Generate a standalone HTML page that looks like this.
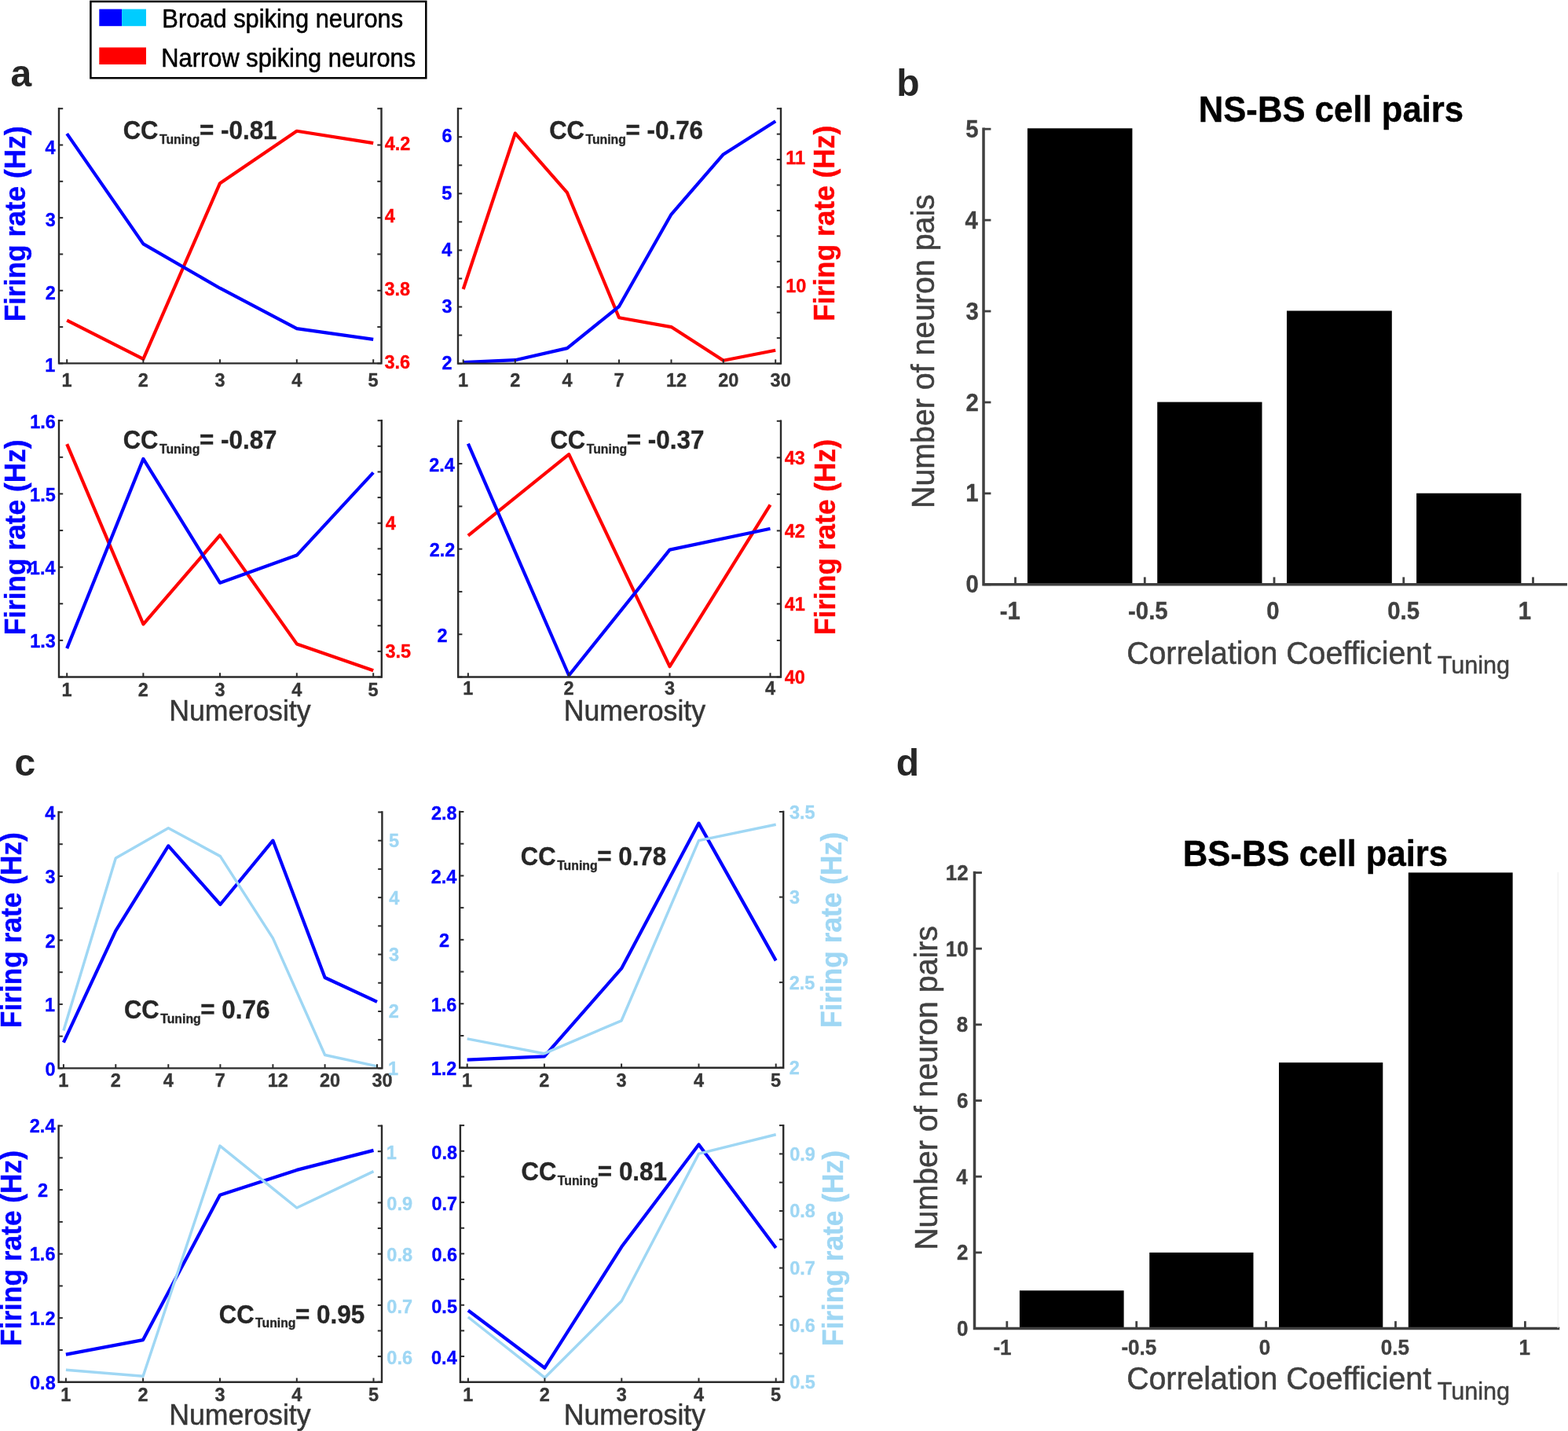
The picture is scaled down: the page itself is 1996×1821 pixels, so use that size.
<!DOCTYPE html>
<html><head><meta charset="utf-8"><title>Figure</title>
<style>
html,body{margin:0;padding:0;background:#fff;}
svg{display:block;}
text{font-family:'Liberation Sans', Arial, Helvetica, sans-serif;}
</style></head>
<body>
<svg width="1996" height="1821" viewBox="0 0 1996 1821">
<rect x="0" y="0" width="1996" height="1821" fill="#fff"/>
<polyline points="85.20,407.60 182.40,456.90 280.00,233.20 377.80,166.80 475.20,182.10" fill="none" stroke="#ff0000" stroke-width="4.20" stroke-linejoin="round" stroke-linecap="butt"/>
<polyline points="85.20,170.10 182.40,310.40 280.00,366.70 377.80,418.10 475.20,431.90" fill="none" stroke="#0000ff" stroke-width="4.20" stroke-linejoin="round" stroke-linecap="butt"/>
<path d="M75.00 138.20 V462.40 H485.50 V138.20" fill="none" stroke="#2b2b2b" stroke-width="2.40" stroke-linejoin="miter" stroke-linecap="square"/>
<line x1="85.20" y1="462.40" x2="85.20" y2="457.20" stroke="#2b2b2b" stroke-width="2.00"/>
<text transform="translate(78.60 491.70) scale(1 1.055)" font-size="23.50" fill="#363636" font-weight="bold" stroke="#363636" stroke-width="0.35">1</text>
<line x1="182.40" y1="462.40" x2="182.40" y2="457.20" stroke="#2b2b2b" stroke-width="2.00"/>
<text transform="translate(175.80 491.70) scale(1 1.055)" font-size="23.50" fill="#363636" font-weight="bold" stroke="#363636" stroke-width="0.35">2</text>
<line x1="280.00" y1="462.40" x2="280.00" y2="457.20" stroke="#2b2b2b" stroke-width="2.00"/>
<text transform="translate(273.40 491.70) scale(1 1.055)" font-size="23.50" fill="#363636" font-weight="bold" stroke="#363636" stroke-width="0.35">3</text>
<line x1="377.80" y1="462.40" x2="377.80" y2="457.20" stroke="#2b2b2b" stroke-width="2.00"/>
<text transform="translate(371.20 491.70) scale(1 1.055)" font-size="23.50" fill="#363636" font-weight="bold" stroke="#363636" stroke-width="0.35">4</text>
<line x1="475.20" y1="462.40" x2="475.20" y2="457.20" stroke="#2b2b2b" stroke-width="2.00"/>
<text transform="translate(468.60 491.70) scale(1 1.055)" font-size="23.50" fill="#363636" font-weight="bold" stroke="#363636" stroke-width="0.35">5</text>
<line x1="75.00" y1="462.40" x2="80.20" y2="462.40" stroke="#2b2b2b" stroke-width="2.00"/>
<line x1="75.00" y1="416.09" x2="80.20" y2="416.09" stroke="#2b2b2b" stroke-width="2.00"/>
<line x1="75.00" y1="369.77" x2="80.20" y2="369.77" stroke="#2b2b2b" stroke-width="2.00"/>
<line x1="75.00" y1="323.46" x2="80.20" y2="323.46" stroke="#2b2b2b" stroke-width="2.00"/>
<line x1="75.00" y1="277.14" x2="80.20" y2="277.14" stroke="#2b2b2b" stroke-width="2.00"/>
<line x1="75.00" y1="230.83" x2="80.20" y2="230.83" stroke="#2b2b2b" stroke-width="2.00"/>
<line x1="75.00" y1="184.51" x2="80.20" y2="184.51" stroke="#2b2b2b" stroke-width="2.00"/>
<line x1="75.00" y1="138.20" x2="80.20" y2="138.20" stroke="#2b2b2b" stroke-width="2.00"/>
<text transform="translate(57.21 473.40) scale(1 1.055)" font-size="23.50" fill="#0000ff" font-weight="bold" stroke="#0000ff" stroke-width="0.35">1</text>
<text transform="translate(57.74 380.77) scale(1 1.055)" font-size="23.50" fill="#0000ff" font-weight="bold" stroke="#0000ff" stroke-width="0.35">2</text>
<text transform="translate(57.80 288.14) scale(1 1.055)" font-size="23.50" fill="#0000ff" font-weight="bold" stroke="#0000ff" stroke-width="0.35">3</text>
<text transform="translate(57.56 195.51) scale(1 1.055)" font-size="23.50" fill="#0000ff" font-weight="bold" stroke="#0000ff" stroke-width="0.35">4</text>
<line x1="485.50" y1="462.40" x2="480.30" y2="462.40" stroke="#2b2b2b" stroke-width="2.00"/>
<line x1="485.50" y1="416.09" x2="480.30" y2="416.09" stroke="#2b2b2b" stroke-width="2.00"/>
<line x1="485.50" y1="369.77" x2="480.30" y2="369.77" stroke="#2b2b2b" stroke-width="2.00"/>
<line x1="485.50" y1="323.46" x2="480.30" y2="323.46" stroke="#2b2b2b" stroke-width="2.00"/>
<line x1="485.50" y1="277.14" x2="480.30" y2="277.14" stroke="#2b2b2b" stroke-width="2.00"/>
<line x1="485.50" y1="230.83" x2="480.30" y2="230.83" stroke="#2b2b2b" stroke-width="2.00"/>
<line x1="485.50" y1="184.51" x2="480.30" y2="184.51" stroke="#2b2b2b" stroke-width="2.00"/>
<line x1="485.50" y1="138.20" x2="480.30" y2="138.20" stroke="#2b2b2b" stroke-width="2.00"/>
<text transform="translate(489.51 468.70) scale(1 1.055)" font-size="23.50" fill="#ff0000" font-weight="bold" stroke="#ff0000" stroke-width="0.35">3.6</text>
<text transform="translate(489.51 376.07) scale(1 1.055)" font-size="23.50" fill="#ff0000" font-weight="bold" stroke="#ff0000" stroke-width="0.35">3.8</text>
<text transform="translate(489.75 283.44) scale(1 1.055)" font-size="23.50" fill="#ff0000" font-weight="bold" stroke="#ff0000" stroke-width="0.35">4</text>
<text transform="translate(489.75 190.81) scale(1 1.055)" font-size="23.50" fill="#ff0000" font-weight="bold" stroke="#ff0000" stroke-width="0.35">4.2</text>
<text transform="translate(156.66 177.10) scale(1 1.055)" font-size="31.00" fill="#262626" font-weight="bold" stroke="#262626" stroke-width="0.35">CC</text>
<text transform="translate(202.94 182.90) scale(1 1.055)" font-size="15.80" fill="#262626" font-weight="bold" stroke="#262626" stroke-width="0.35">Tuning</text>
<text transform="translate(253.94 177.10) scale(1 1.055)" font-size="31.40" fill="#262626" font-weight="bold" stroke="#262626" stroke-width="0.35">= -0.81</text>
<text transform="translate(31.51 409.37) rotate(-90) scale(1 1.035)" x="0" y="0" font-size="35.30" fill="#0000ff" font-weight="bold" stroke="#0000ff" stroke-width="0.35">Firing rate (Hz)</text>
<polyline points="589.70,368.00 655.80,169.60 722.00,245.20 788.00,404.30 854.50,416.10 920.80,458.70 987.20,445.70" fill="none" stroke="#ff0000" stroke-width="4.20" stroke-linejoin="round" stroke-linecap="butt"/>
<polyline points="589.70,461.20 655.80,458.20 722.00,443.10 788.00,390.00 854.50,272.80 920.80,196.40 987.20,154.30" fill="none" stroke="#0000ff" stroke-width="4.20" stroke-linejoin="round" stroke-linecap="butt"/>
<path d="M583.00 138.20 V462.60 H994.00 V138.20" fill="none" stroke="#2b2b2b" stroke-width="2.40" stroke-linejoin="miter" stroke-linecap="square"/>
<line x1="589.70" y1="462.60" x2="589.70" y2="457.40" stroke="#2b2b2b" stroke-width="2.00"/>
<text transform="translate(583.10 492.30) scale(1 1.055)" font-size="23.50" fill="#363636" font-weight="bold" stroke="#363636" stroke-width="0.35">1</text>
<line x1="655.80" y1="462.60" x2="655.80" y2="457.40" stroke="#2b2b2b" stroke-width="2.00"/>
<text transform="translate(649.20 492.30) scale(1 1.055)" font-size="23.50" fill="#363636" font-weight="bold" stroke="#363636" stroke-width="0.35">2</text>
<line x1="722.00" y1="462.60" x2="722.00" y2="457.40" stroke="#2b2b2b" stroke-width="2.00"/>
<text transform="translate(715.40 492.30) scale(1 1.055)" font-size="23.50" fill="#363636" font-weight="bold" stroke="#363636" stroke-width="0.35">4</text>
<line x1="788.00" y1="462.60" x2="788.00" y2="457.40" stroke="#2b2b2b" stroke-width="2.00"/>
<text transform="translate(781.40 492.30) scale(1 1.055)" font-size="23.50" fill="#363636" font-weight="bold" stroke="#363636" stroke-width="0.35">7</text>
<line x1="854.50" y1="462.60" x2="854.50" y2="457.40" stroke="#2b2b2b" stroke-width="2.00"/>
<text transform="translate(847.90 492.30) scale(1 1.055)" font-size="23.50" fill="#363636" font-weight="bold" stroke="#363636" stroke-width="0.35">12</text>
<line x1="920.80" y1="462.60" x2="920.80" y2="457.40" stroke="#2b2b2b" stroke-width="2.00"/>
<text transform="translate(914.20 492.30) scale(1 1.055)" font-size="23.50" fill="#363636" font-weight="bold" stroke="#363636" stroke-width="0.35">20</text>
<line x1="987.20" y1="462.60" x2="987.20" y2="457.40" stroke="#2b2b2b" stroke-width="2.00"/>
<text transform="translate(980.60 492.30) scale(1 1.055)" font-size="23.50" fill="#363636" font-weight="bold" stroke="#363636" stroke-width="0.35">30</text>
<line x1="583.00" y1="462.60" x2="588.20" y2="462.60" stroke="#2b2b2b" stroke-width="2.00"/>
<line x1="583.00" y1="426.56" x2="588.20" y2="426.56" stroke="#2b2b2b" stroke-width="2.00"/>
<line x1="583.00" y1="390.51" x2="588.20" y2="390.51" stroke="#2b2b2b" stroke-width="2.00"/>
<line x1="583.00" y1="354.47" x2="588.20" y2="354.47" stroke="#2b2b2b" stroke-width="2.00"/>
<line x1="583.00" y1="318.42" x2="588.20" y2="318.42" stroke="#2b2b2b" stroke-width="2.00"/>
<line x1="583.00" y1="282.38" x2="588.20" y2="282.38" stroke="#2b2b2b" stroke-width="2.00"/>
<line x1="583.00" y1="246.33" x2="588.20" y2="246.33" stroke="#2b2b2b" stroke-width="2.00"/>
<line x1="583.00" y1="210.29" x2="588.20" y2="210.29" stroke="#2b2b2b" stroke-width="2.00"/>
<line x1="583.00" y1="174.24" x2="588.20" y2="174.24" stroke="#2b2b2b" stroke-width="2.00"/>
<line x1="583.00" y1="138.20" x2="588.20" y2="138.20" stroke="#2b2b2b" stroke-width="2.00"/>
<text transform="translate(562.44 469.80) scale(1 1.055)" font-size="23.50" fill="#0000ff" font-weight="bold" stroke="#0000ff" stroke-width="0.35">2</text>
<text transform="translate(562.50 397.71) scale(1 1.055)" font-size="23.50" fill="#0000ff" font-weight="bold" stroke="#0000ff" stroke-width="0.35">3</text>
<text transform="translate(562.26 325.62) scale(1 1.055)" font-size="23.50" fill="#0000ff" font-weight="bold" stroke="#0000ff" stroke-width="0.35">4</text>
<text transform="translate(562.32 253.53) scale(1 1.055)" font-size="23.50" fill="#0000ff" font-weight="bold" stroke="#0000ff" stroke-width="0.35">5</text>
<text transform="translate(562.38 181.44) scale(1 1.055)" font-size="23.50" fill="#0000ff" font-weight="bold" stroke="#0000ff" stroke-width="0.35">6</text>
<line x1="994.00" y1="462.60" x2="988.80" y2="462.60" stroke="#2b2b2b" stroke-width="2.00"/>
<line x1="994.00" y1="430.16" x2="988.80" y2="430.16" stroke="#2b2b2b" stroke-width="2.00"/>
<line x1="994.00" y1="397.72" x2="988.80" y2="397.72" stroke="#2b2b2b" stroke-width="2.00"/>
<line x1="994.00" y1="365.28" x2="988.80" y2="365.28" stroke="#2b2b2b" stroke-width="2.00"/>
<line x1="994.00" y1="332.84" x2="988.80" y2="332.84" stroke="#2b2b2b" stroke-width="2.00"/>
<line x1="994.00" y1="300.40" x2="988.80" y2="300.40" stroke="#2b2b2b" stroke-width="2.00"/>
<line x1="994.00" y1="267.96" x2="988.80" y2="267.96" stroke="#2b2b2b" stroke-width="2.00"/>
<line x1="994.00" y1="235.52" x2="988.80" y2="235.52" stroke="#2b2b2b" stroke-width="2.00"/>
<line x1="994.00" y1="203.08" x2="988.80" y2="203.08" stroke="#2b2b2b" stroke-width="2.00"/>
<line x1="994.00" y1="170.64" x2="988.80" y2="170.64" stroke="#2b2b2b" stroke-width="2.00"/>
<line x1="994.00" y1="138.20" x2="988.80" y2="138.20" stroke="#2b2b2b" stroke-width="2.00"/>
<text transform="translate(1000.17 371.58) scale(1 1.055)" font-size="23.50" fill="#ff0000" font-weight="bold" stroke="#ff0000" stroke-width="0.35">10</text>
<text transform="translate(1000.17 209.38) scale(1 1.055)" font-size="23.50" fill="#ff0000" font-weight="bold" stroke="#ff0000" stroke-width="0.35">11</text>
<text transform="translate(699.16 177.10) scale(1 1.055)" font-size="31.00" fill="#262626" font-weight="bold" stroke="#262626" stroke-width="0.35">CC</text>
<text transform="translate(745.44 182.90) scale(1 1.055)" font-size="15.80" fill="#262626" font-weight="bold" stroke="#262626" stroke-width="0.35">Tuning</text>
<text transform="translate(796.44 177.10) scale(1 1.055)" font-size="31.40" fill="#262626" font-weight="bold" stroke="#262626" stroke-width="0.35">= -0.76</text>
<text transform="translate(1061.71 408.77) rotate(-90) scale(1 1.035)" x="0" y="0" font-size="35.30" fill="#ff0000" font-weight="bold" stroke="#ff0000" stroke-width="0.35">Firing rate (Hz)</text>
<polyline points="85.20,565.10 182.40,794.30 280.00,681.10 377.80,819.40 475.20,853.20" fill="none" stroke="#ff0000" stroke-width="4.20" stroke-linejoin="round" stroke-linecap="butt"/>
<polyline points="85.20,825.10 182.40,583.90 280.00,741.70 377.80,706.60 475.20,601.40" fill="none" stroke="#0000ff" stroke-width="4.20" stroke-linejoin="round" stroke-linecap="butt"/>
<path d="M75.00 535.20 V861.50 H485.80 V535.20" fill="none" stroke="#2b2b2b" stroke-width="2.40" stroke-linejoin="miter" stroke-linecap="square"/>
<line x1="85.20" y1="861.50" x2="85.20" y2="856.30" stroke="#2b2b2b" stroke-width="2.00"/>
<text transform="translate(78.60 885.50) scale(1 1.055)" font-size="23.50" fill="#363636" font-weight="bold" stroke="#363636" stroke-width="0.35">1</text>
<line x1="182.40" y1="861.50" x2="182.40" y2="856.30" stroke="#2b2b2b" stroke-width="2.00"/>
<text transform="translate(175.80 885.50) scale(1 1.055)" font-size="23.50" fill="#363636" font-weight="bold" stroke="#363636" stroke-width="0.35">2</text>
<line x1="280.00" y1="861.50" x2="280.00" y2="856.30" stroke="#2b2b2b" stroke-width="2.00"/>
<text transform="translate(273.40 885.50) scale(1 1.055)" font-size="23.50" fill="#363636" font-weight="bold" stroke="#363636" stroke-width="0.35">3</text>
<line x1="377.80" y1="861.50" x2="377.80" y2="856.30" stroke="#2b2b2b" stroke-width="2.00"/>
<text transform="translate(371.20 885.50) scale(1 1.055)" font-size="23.50" fill="#363636" font-weight="bold" stroke="#363636" stroke-width="0.35">4</text>
<line x1="475.20" y1="861.50" x2="475.20" y2="856.30" stroke="#2b2b2b" stroke-width="2.00"/>
<text transform="translate(468.60 885.50) scale(1 1.055)" font-size="23.50" fill="#363636" font-weight="bold" stroke="#363636" stroke-width="0.35">5</text>
<line x1="75.00" y1="861.50" x2="80.20" y2="861.50" stroke="#2b2b2b" stroke-width="2.00"/>
<line x1="75.00" y1="814.89" x2="80.20" y2="814.89" stroke="#2b2b2b" stroke-width="2.00"/>
<line x1="75.00" y1="768.27" x2="80.20" y2="768.27" stroke="#2b2b2b" stroke-width="2.00"/>
<line x1="75.00" y1="721.66" x2="80.20" y2="721.66" stroke="#2b2b2b" stroke-width="2.00"/>
<line x1="75.00" y1="675.04" x2="80.20" y2="675.04" stroke="#2b2b2b" stroke-width="2.00"/>
<line x1="75.00" y1="628.43" x2="80.20" y2="628.43" stroke="#2b2b2b" stroke-width="2.00"/>
<line x1="75.00" y1="581.81" x2="80.20" y2="581.81" stroke="#2b2b2b" stroke-width="2.00"/>
<line x1="75.00" y1="535.20" x2="80.20" y2="535.20" stroke="#2b2b2b" stroke-width="2.00"/>
<text transform="translate(38.22 824.39) scale(1 1.055)" font-size="23.50" fill="#0000ff" font-weight="bold" stroke="#0000ff" stroke-width="0.35">1.3</text>
<text transform="translate(37.86 731.16) scale(1 1.055)" font-size="23.50" fill="#0000ff" font-weight="bold" stroke="#0000ff" stroke-width="0.35">1.4</text>
<text transform="translate(38.10 637.93) scale(1 1.055)" font-size="23.50" fill="#0000ff" font-weight="bold" stroke="#0000ff" stroke-width="0.35">1.5</text>
<text transform="translate(38.22 544.70) scale(1 1.055)" font-size="23.50" fill="#0000ff" font-weight="bold" stroke="#0000ff" stroke-width="0.35">1.6</text>
<line x1="485.80" y1="861.50" x2="480.60" y2="861.50" stroke="#2b2b2b" stroke-width="2.00"/>
<line x1="485.80" y1="828.87" x2="480.60" y2="828.87" stroke="#2b2b2b" stroke-width="2.00"/>
<line x1="485.80" y1="796.24" x2="480.60" y2="796.24" stroke="#2b2b2b" stroke-width="2.00"/>
<line x1="485.80" y1="763.61" x2="480.60" y2="763.61" stroke="#2b2b2b" stroke-width="2.00"/>
<line x1="485.80" y1="730.98" x2="480.60" y2="730.98" stroke="#2b2b2b" stroke-width="2.00"/>
<line x1="485.80" y1="698.35" x2="480.60" y2="698.35" stroke="#2b2b2b" stroke-width="2.00"/>
<line x1="485.80" y1="665.72" x2="480.60" y2="665.72" stroke="#2b2b2b" stroke-width="2.00"/>
<line x1="485.80" y1="633.09" x2="480.60" y2="633.09" stroke="#2b2b2b" stroke-width="2.00"/>
<line x1="485.80" y1="600.46" x2="480.60" y2="600.46" stroke="#2b2b2b" stroke-width="2.00"/>
<line x1="485.80" y1="567.83" x2="480.60" y2="567.83" stroke="#2b2b2b" stroke-width="2.00"/>
<line x1="485.80" y1="535.20" x2="480.60" y2="535.20" stroke="#2b2b2b" stroke-width="2.00"/>
<text transform="translate(490.41 837.37) scale(1 1.055)" font-size="23.50" fill="#ff0000" font-weight="bold" stroke="#ff0000" stroke-width="0.35">3.5</text>
<text transform="translate(490.65 674.22) scale(1 1.055)" font-size="23.50" fill="#ff0000" font-weight="bold" stroke="#ff0000" stroke-width="0.35">4</text>
<text transform="translate(156.66 570.90) scale(1 1.055)" font-size="31.00" fill="#262626" font-weight="bold" stroke="#262626" stroke-width="0.35">CC</text>
<text transform="translate(202.94 576.70) scale(1 1.055)" font-size="15.80" fill="#262626" font-weight="bold" stroke="#262626" stroke-width="0.35">Tuning</text>
<text transform="translate(253.94 570.90) scale(1 1.055)" font-size="31.40" fill="#262626" font-weight="bold" stroke="#262626" stroke-width="0.35">= -0.87</text>
<text transform="translate(31.51 808.37) rotate(-90) scale(1 1.035)" x="0" y="0" font-size="35.30" fill="#0000ff" font-weight="bold" stroke="#0000ff" stroke-width="0.35">Firing rate (Hz)</text>
<text transform="translate(215.14 917.00) scale(1 1.055)" font-size="35.70" fill="#363636" stroke="#363636" stroke-width="0.50">Numerosity</text>
<polyline points="595.90,681.60 724.20,578.10 852.50,848.20 980.50,642.30" fill="none" stroke="#ff0000" stroke-width="4.20" stroke-linejoin="round" stroke-linecap="butt"/>
<polyline points="595.90,564.60 724.20,859.50 852.50,699.60 980.50,672.80" fill="none" stroke="#0000ff" stroke-width="4.20" stroke-linejoin="round" stroke-linecap="butt"/>
<path d="M583.20 535.80 V861.50 H994.00 V535.80" fill="none" stroke="#2b2b2b" stroke-width="2.40" stroke-linejoin="miter" stroke-linecap="square"/>
<line x1="595.90" y1="861.50" x2="595.90" y2="856.30" stroke="#2b2b2b" stroke-width="2.00"/>
<text transform="translate(589.30 884.20) scale(1 1.055)" font-size="23.50" fill="#363636" font-weight="bold" stroke="#363636" stroke-width="0.35">1</text>
<line x1="724.20" y1="861.50" x2="724.20" y2="856.30" stroke="#2b2b2b" stroke-width="2.00"/>
<text transform="translate(717.60 884.20) scale(1 1.055)" font-size="23.50" fill="#363636" font-weight="bold" stroke="#363636" stroke-width="0.35">2</text>
<line x1="852.50" y1="861.50" x2="852.50" y2="856.30" stroke="#2b2b2b" stroke-width="2.00"/>
<text transform="translate(845.90 884.20) scale(1 1.055)" font-size="23.50" fill="#363636" font-weight="bold" stroke="#363636" stroke-width="0.35">3</text>
<line x1="980.50" y1="861.50" x2="980.50" y2="856.30" stroke="#2b2b2b" stroke-width="2.00"/>
<text transform="translate(973.90 884.20) scale(1 1.055)" font-size="23.50" fill="#363636" font-weight="bold" stroke="#363636" stroke-width="0.35">4</text>
<line x1="583.20" y1="861.50" x2="588.40" y2="861.50" stroke="#2b2b2b" stroke-width="2.00"/>
<line x1="583.20" y1="807.22" x2="588.40" y2="807.22" stroke="#2b2b2b" stroke-width="2.00"/>
<line x1="583.20" y1="752.93" x2="588.40" y2="752.93" stroke="#2b2b2b" stroke-width="2.00"/>
<line x1="583.20" y1="698.65" x2="588.40" y2="698.65" stroke="#2b2b2b" stroke-width="2.00"/>
<line x1="583.20" y1="644.37" x2="588.40" y2="644.37" stroke="#2b2b2b" stroke-width="2.00"/>
<line x1="583.20" y1="590.08" x2="588.40" y2="590.08" stroke="#2b2b2b" stroke-width="2.00"/>
<line x1="583.20" y1="535.80" x2="588.40" y2="535.80" stroke="#2b2b2b" stroke-width="2.00"/>
<text transform="translate(556.44 816.92) scale(1 1.055)" font-size="23.50" fill="#0000ff" font-weight="bold" stroke="#0000ff" stroke-width="0.35">2</text>
<text transform="translate(546.63 708.35) scale(1 1.055)" font-size="23.50" fill="#0000ff" font-weight="bold" stroke="#0000ff" stroke-width="0.35">2.2</text>
<text transform="translate(546.22 599.78) scale(1 1.055)" font-size="23.50" fill="#0000ff" font-weight="bold" stroke="#0000ff" stroke-width="0.35">2.4</text>
<line x1="994.00" y1="861.50" x2="988.80" y2="861.50" stroke="#2b2b2b" stroke-width="2.00"/>
<line x1="994.00" y1="814.97" x2="988.80" y2="814.97" stroke="#2b2b2b" stroke-width="2.00"/>
<line x1="994.00" y1="768.44" x2="988.80" y2="768.44" stroke="#2b2b2b" stroke-width="2.00"/>
<line x1="994.00" y1="721.91" x2="988.80" y2="721.91" stroke="#2b2b2b" stroke-width="2.00"/>
<line x1="994.00" y1="675.39" x2="988.80" y2="675.39" stroke="#2b2b2b" stroke-width="2.00"/>
<line x1="994.00" y1="628.86" x2="988.80" y2="628.86" stroke="#2b2b2b" stroke-width="2.00"/>
<line x1="994.00" y1="582.33" x2="988.80" y2="582.33" stroke="#2b2b2b" stroke-width="2.00"/>
<line x1="994.00" y1="535.80" x2="988.80" y2="535.80" stroke="#2b2b2b" stroke-width="2.00"/>
<text transform="translate(998.75 870.00) scale(1 1.055)" font-size="23.50" fill="#ff0000" font-weight="bold" stroke="#ff0000" stroke-width="0.35">40</text>
<text transform="translate(998.75 776.94) scale(1 1.055)" font-size="23.50" fill="#ff0000" font-weight="bold" stroke="#ff0000" stroke-width="0.35">41</text>
<text transform="translate(998.75 683.89) scale(1 1.055)" font-size="23.50" fill="#ff0000" font-weight="bold" stroke="#ff0000" stroke-width="0.35">42</text>
<text transform="translate(998.75 590.83) scale(1 1.055)" font-size="23.50" fill="#ff0000" font-weight="bold" stroke="#ff0000" stroke-width="0.35">43</text>
<text transform="translate(700.46 570.90) scale(1 1.055)" font-size="31.00" fill="#262626" font-weight="bold" stroke="#262626" stroke-width="0.35">CC</text>
<text transform="translate(746.74 576.70) scale(1 1.055)" font-size="15.80" fill="#262626" font-weight="bold" stroke="#262626" stroke-width="0.35">Tuning</text>
<text transform="translate(797.74 570.90) scale(1 1.055)" font-size="31.40" fill="#262626" font-weight="bold" stroke="#262626" stroke-width="0.35">= -0.37</text>
<text transform="translate(1062.51 807.97) rotate(-90) scale(1 1.035)" x="0" y="0" font-size="35.30" fill="#ff0000" font-weight="bold" stroke="#ff0000" stroke-width="0.35">Firing rate (Hz)</text>
<text transform="translate(717.64 917.00) scale(1 1.055)" font-size="35.70" fill="#363636" stroke="#363636" stroke-width="0.50">Numerosity</text>
<polyline points="80.90,1326.60 147.30,1184.30 214.30,1076.40 280.40,1151.00 347.40,1069.60 413.60,1244.00 480.00,1274.80" fill="none" stroke="#0000ff" stroke-width="4.20" stroke-linejoin="round" stroke-linecap="butt"/>
<polyline points="80.90,1311.40 147.30,1092.10 214.30,1053.70 280.40,1089.60 347.40,1193.90 413.60,1342.50 480.00,1356.90" fill="none" stroke="#9fd7f4" stroke-width="3.50" stroke-linejoin="round" stroke-linecap="butt"/>
<path d="M74.60 1033.50 V1359.40 H486.40 V1033.50" fill="none" stroke="#2b2b2b" stroke-width="2.40" stroke-linejoin="miter" stroke-linecap="square"/>
<line x1="80.90" y1="1359.40" x2="80.90" y2="1354.20" stroke="#2b2b2b" stroke-width="2.00"/>
<text transform="translate(74.30 1383.00) scale(1 1.055)" font-size="23.50" fill="#363636" font-weight="bold" stroke="#363636" stroke-width="0.35">1</text>
<line x1="147.30" y1="1359.40" x2="147.30" y2="1354.20" stroke="#2b2b2b" stroke-width="2.00"/>
<text transform="translate(140.70 1383.00) scale(1 1.055)" font-size="23.50" fill="#363636" font-weight="bold" stroke="#363636" stroke-width="0.35">2</text>
<line x1="214.30" y1="1359.40" x2="214.30" y2="1354.20" stroke="#2b2b2b" stroke-width="2.00"/>
<text transform="translate(207.70 1383.00) scale(1 1.055)" font-size="23.50" fill="#363636" font-weight="bold" stroke="#363636" stroke-width="0.35">4</text>
<line x1="280.40" y1="1359.40" x2="280.40" y2="1354.20" stroke="#2b2b2b" stroke-width="2.00"/>
<text transform="translate(273.80 1383.00) scale(1 1.055)" font-size="23.50" fill="#363636" font-weight="bold" stroke="#363636" stroke-width="0.35">7</text>
<line x1="347.40" y1="1359.40" x2="347.40" y2="1354.20" stroke="#2b2b2b" stroke-width="2.00"/>
<text transform="translate(340.80 1383.00) scale(1 1.055)" font-size="23.50" fill="#363636" font-weight="bold" stroke="#363636" stroke-width="0.35">12</text>
<line x1="413.60" y1="1359.40" x2="413.60" y2="1354.20" stroke="#2b2b2b" stroke-width="2.00"/>
<text transform="translate(407.00 1383.00) scale(1 1.055)" font-size="23.50" fill="#363636" font-weight="bold" stroke="#363636" stroke-width="0.35">20</text>
<line x1="480.00" y1="1359.40" x2="480.00" y2="1354.20" stroke="#2b2b2b" stroke-width="2.00"/>
<text transform="translate(473.40 1383.00) scale(1 1.055)" font-size="23.50" fill="#363636" font-weight="bold" stroke="#363636" stroke-width="0.35">30</text>
<line x1="74.60" y1="1359.40" x2="79.80" y2="1359.40" stroke="#2b2b2b" stroke-width="2.00"/>
<line x1="74.60" y1="1318.66" x2="79.80" y2="1318.66" stroke="#2b2b2b" stroke-width="2.00"/>
<line x1="74.60" y1="1277.93" x2="79.80" y2="1277.93" stroke="#2b2b2b" stroke-width="2.00"/>
<line x1="74.60" y1="1237.19" x2="79.80" y2="1237.19" stroke="#2b2b2b" stroke-width="2.00"/>
<line x1="74.60" y1="1196.45" x2="79.80" y2="1196.45" stroke="#2b2b2b" stroke-width="2.00"/>
<line x1="74.60" y1="1155.71" x2="79.80" y2="1155.71" stroke="#2b2b2b" stroke-width="2.00"/>
<line x1="74.60" y1="1114.97" x2="79.80" y2="1114.97" stroke="#2b2b2b" stroke-width="2.00"/>
<line x1="74.60" y1="1074.24" x2="79.80" y2="1074.24" stroke="#2b2b2b" stroke-width="2.00"/>
<line x1="74.60" y1="1033.50" x2="79.80" y2="1033.50" stroke="#2b2b2b" stroke-width="2.00"/>
<text transform="translate(57.38 1368.50) scale(1 1.055)" font-size="23.50" fill="#0000ff" font-weight="bold" stroke="#0000ff" stroke-width="0.35">0</text>
<text transform="translate(56.91 1287.03) scale(1 1.055)" font-size="23.50" fill="#0000ff" font-weight="bold" stroke="#0000ff" stroke-width="0.35">1</text>
<text transform="translate(57.44 1205.55) scale(1 1.055)" font-size="23.50" fill="#0000ff" font-weight="bold" stroke="#0000ff" stroke-width="0.35">2</text>
<text transform="translate(57.50 1124.07) scale(1 1.055)" font-size="23.50" fill="#0000ff" font-weight="bold" stroke="#0000ff" stroke-width="0.35">3</text>
<text transform="translate(57.26 1042.60) scale(1 1.055)" font-size="23.50" fill="#0000ff" font-weight="bold" stroke="#0000ff" stroke-width="0.35">4</text>
<line x1="486.40" y1="1359.40" x2="481.20" y2="1359.40" stroke="#2b2b2b" stroke-width="2.00"/>
<line x1="486.40" y1="1323.19" x2="481.20" y2="1323.19" stroke="#2b2b2b" stroke-width="2.00"/>
<line x1="486.40" y1="1286.98" x2="481.20" y2="1286.98" stroke="#2b2b2b" stroke-width="2.00"/>
<line x1="486.40" y1="1250.77" x2="481.20" y2="1250.77" stroke="#2b2b2b" stroke-width="2.00"/>
<line x1="486.40" y1="1214.56" x2="481.20" y2="1214.56" stroke="#2b2b2b" stroke-width="2.00"/>
<line x1="486.40" y1="1178.34" x2="481.20" y2="1178.34" stroke="#2b2b2b" stroke-width="2.00"/>
<line x1="486.40" y1="1142.13" x2="481.20" y2="1142.13" stroke="#2b2b2b" stroke-width="2.00"/>
<line x1="486.40" y1="1105.92" x2="481.20" y2="1105.92" stroke="#2b2b2b" stroke-width="2.00"/>
<line x1="486.40" y1="1069.71" x2="481.20" y2="1069.71" stroke="#2b2b2b" stroke-width="2.00"/>
<line x1="486.40" y1="1033.50" x2="481.20" y2="1033.50" stroke="#2b2b2b" stroke-width="2.00"/>
<text transform="translate(494.07 1367.90) scale(1 1.055)" font-size="23.50" fill="#9fd7f4" font-weight="bold" stroke="#9fd7f4" stroke-width="0.35">1</text>
<text transform="translate(494.78 1295.48) scale(1 1.055)" font-size="23.50" fill="#9fd7f4" font-weight="bold" stroke="#9fd7f4" stroke-width="0.35">2</text>
<text transform="translate(495.01 1223.06) scale(1 1.055)" font-size="23.50" fill="#9fd7f4" font-weight="bold" stroke="#9fd7f4" stroke-width="0.35">3</text>
<text transform="translate(495.25 1150.63) scale(1 1.055)" font-size="23.50" fill="#9fd7f4" font-weight="bold" stroke="#9fd7f4" stroke-width="0.35">4</text>
<text transform="translate(494.90 1078.21) scale(1 1.055)" font-size="23.50" fill="#9fd7f4" font-weight="bold" stroke="#9fd7f4" stroke-width="0.35">5</text>
<text transform="translate(157.96 1295.70) scale(1 1.055)" font-size="31.00" fill="#262626" font-weight="bold" stroke="#262626" stroke-width="0.35">CC</text>
<text transform="translate(204.24 1301.50) scale(1 1.055)" font-size="15.80" fill="#262626" font-weight="bold" stroke="#262626" stroke-width="0.35">Tuning</text>
<text transform="translate(255.24 1295.70) scale(1 1.055)" font-size="31.40" fill="#262626" font-weight="bold" stroke="#262626" stroke-width="0.35">= 0.76</text>
<text transform="translate(27.41 1308.17) rotate(-90) scale(1 1.035)" x="0" y="0" font-size="35.30" fill="#0000ff" font-weight="bold" stroke="#0000ff" stroke-width="0.35">Firing rate (Hz)</text>
<polyline points="594.70,1348.70 692.90,1344.40 791.10,1232.40 889.50,1047.60 987.70,1222.40" fill="none" stroke="#0000ff" stroke-width="4.20" stroke-linejoin="round" stroke-linecap="butt"/>
<polyline points="594.70,1321.90 692.90,1340.70 791.10,1298.80 889.50,1069.60 987.70,1049.30" fill="none" stroke="#9fd7f4" stroke-width="3.50" stroke-linejoin="round" stroke-linecap="butt"/>
<path d="M585.20 1033.00 V1358.70 H997.20 V1033.00" fill="none" stroke="#2b2b2b" stroke-width="2.40" stroke-linejoin="miter" stroke-linecap="square"/>
<line x1="594.70" y1="1358.70" x2="594.70" y2="1353.50" stroke="#2b2b2b" stroke-width="2.00"/>
<text transform="translate(588.10 1383.00) scale(1 1.055)" font-size="23.50" fill="#363636" font-weight="bold" stroke="#363636" stroke-width="0.35">1</text>
<line x1="692.90" y1="1358.70" x2="692.90" y2="1353.50" stroke="#2b2b2b" stroke-width="2.00"/>
<text transform="translate(686.30 1383.00) scale(1 1.055)" font-size="23.50" fill="#363636" font-weight="bold" stroke="#363636" stroke-width="0.35">2</text>
<line x1="791.10" y1="1358.70" x2="791.10" y2="1353.50" stroke="#2b2b2b" stroke-width="2.00"/>
<text transform="translate(784.50 1383.00) scale(1 1.055)" font-size="23.50" fill="#363636" font-weight="bold" stroke="#363636" stroke-width="0.35">3</text>
<line x1="889.50" y1="1358.70" x2="889.50" y2="1353.50" stroke="#2b2b2b" stroke-width="2.00"/>
<text transform="translate(882.90 1383.00) scale(1 1.055)" font-size="23.50" fill="#363636" font-weight="bold" stroke="#363636" stroke-width="0.35">4</text>
<line x1="987.70" y1="1358.70" x2="987.70" y2="1353.50" stroke="#2b2b2b" stroke-width="2.00"/>
<text transform="translate(981.10 1383.00) scale(1 1.055)" font-size="23.50" fill="#363636" font-weight="bold" stroke="#363636" stroke-width="0.35">5</text>
<line x1="585.20" y1="1358.70" x2="590.40" y2="1358.70" stroke="#2b2b2b" stroke-width="2.00"/>
<line x1="585.20" y1="1317.99" x2="590.40" y2="1317.99" stroke="#2b2b2b" stroke-width="2.00"/>
<line x1="585.20" y1="1277.28" x2="590.40" y2="1277.28" stroke="#2b2b2b" stroke-width="2.00"/>
<line x1="585.20" y1="1236.56" x2="590.40" y2="1236.56" stroke="#2b2b2b" stroke-width="2.00"/>
<line x1="585.20" y1="1195.85" x2="590.40" y2="1195.85" stroke="#2b2b2b" stroke-width="2.00"/>
<line x1="585.20" y1="1155.14" x2="590.40" y2="1155.14" stroke="#2b2b2b" stroke-width="2.00"/>
<line x1="585.20" y1="1114.42" x2="590.40" y2="1114.42" stroke="#2b2b2b" stroke-width="2.00"/>
<line x1="585.20" y1="1073.71" x2="590.40" y2="1073.71" stroke="#2b2b2b" stroke-width="2.00"/>
<line x1="585.20" y1="1033.00" x2="590.40" y2="1033.00" stroke="#2b2b2b" stroke-width="2.00"/>
<text transform="translate(548.77 1368.20) scale(1 1.055)" font-size="23.50" fill="#0000ff" font-weight="bold" stroke="#0000ff" stroke-width="0.35">1.2</text>
<text transform="translate(548.72 1286.78) scale(1 1.055)" font-size="23.50" fill="#0000ff" font-weight="bold" stroke="#0000ff" stroke-width="0.35">1.6</text>
<text transform="translate(558.94 1205.35) scale(1 1.055)" font-size="23.50" fill="#0000ff" font-weight="bold" stroke="#0000ff" stroke-width="0.35">2</text>
<text transform="translate(548.72 1123.92) scale(1 1.055)" font-size="23.50" fill="#0000ff" font-weight="bold" stroke="#0000ff" stroke-width="0.35">2.4</text>
<text transform="translate(549.01 1042.50) scale(1 1.055)" font-size="23.50" fill="#0000ff" font-weight="bold" stroke="#0000ff" stroke-width="0.35">2.8</text>
<line x1="997.20" y1="1358.70" x2="992.00" y2="1358.70" stroke="#2b2b2b" stroke-width="2.00"/>
<line x1="997.20" y1="1250.13" x2="992.00" y2="1250.13" stroke="#2b2b2b" stroke-width="2.00"/>
<line x1="997.20" y1="1141.57" x2="992.00" y2="1141.57" stroke="#2b2b2b" stroke-width="2.00"/>
<line x1="997.20" y1="1033.00" x2="992.00" y2="1033.00" stroke="#2b2b2b" stroke-width="2.00"/>
<text transform="translate(1004.78 1367.20) scale(1 1.055)" font-size="23.50" fill="#9fd7f4" font-weight="bold" stroke="#9fd7f4" stroke-width="0.35">2</text>
<text transform="translate(1004.78 1258.63) scale(1 1.055)" font-size="23.50" fill="#9fd7f4" font-weight="bold" stroke="#9fd7f4" stroke-width="0.35">2.5</text>
<text transform="translate(1005.01 1150.07) scale(1 1.055)" font-size="23.50" fill="#9fd7f4" font-weight="bold" stroke="#9fd7f4" stroke-width="0.35">3</text>
<text transform="translate(1005.01 1041.50) scale(1 1.055)" font-size="23.50" fill="#9fd7f4" font-weight="bold" stroke="#9fd7f4" stroke-width="0.35">3.5</text>
<text transform="translate(662.86 1100.70) scale(1 1.055)" font-size="31.00" fill="#262626" font-weight="bold" stroke="#262626" stroke-width="0.35">CC</text>
<text transform="translate(709.14 1106.50) scale(1 1.055)" font-size="15.80" fill="#262626" font-weight="bold" stroke="#262626" stroke-width="0.35">Tuning</text>
<text transform="translate(760.14 1100.70) scale(1 1.055)" font-size="31.40" fill="#262626" font-weight="bold" stroke="#262626" stroke-width="0.35">= 0.78</text>
<text transform="translate(1070.81 1308.07) rotate(-90) scale(1 1.035)" x="0" y="0" font-size="35.30" fill="#9fd7f4" font-weight="bold" stroke="#9fd7f4" stroke-width="0.35">Firing rate (Hz)</text>
<polyline points="83.90,1723.60 182.10,1705.10 280.00,1520.70 377.80,1488.90 475.50,1463.90" fill="none" stroke="#0000ff" stroke-width="4.20" stroke-linejoin="round" stroke-linecap="butt"/>
<polyline points="83.90,1743.20 182.10,1751.20 280.00,1458.10 377.80,1537.00 475.50,1490.70" fill="none" stroke="#9fd7f4" stroke-width="3.50" stroke-linejoin="round" stroke-linecap="butt"/>
<path d="M74.60 1432.60 V1758.70 H486.00 V1432.60" fill="none" stroke="#2b2b2b" stroke-width="2.40" stroke-linejoin="miter" stroke-linecap="square"/>
<line x1="83.90" y1="1758.70" x2="83.90" y2="1753.50" stroke="#2b2b2b" stroke-width="2.00"/>
<text transform="translate(77.30 1783.00) scale(1 1.055)" font-size="23.50" fill="#363636" font-weight="bold" stroke="#363636" stroke-width="0.35">1</text>
<line x1="182.10" y1="1758.70" x2="182.10" y2="1753.50" stroke="#2b2b2b" stroke-width="2.00"/>
<text transform="translate(175.50 1783.00) scale(1 1.055)" font-size="23.50" fill="#363636" font-weight="bold" stroke="#363636" stroke-width="0.35">2</text>
<line x1="280.00" y1="1758.70" x2="280.00" y2="1753.50" stroke="#2b2b2b" stroke-width="2.00"/>
<text transform="translate(273.40 1783.00) scale(1 1.055)" font-size="23.50" fill="#363636" font-weight="bold" stroke="#363636" stroke-width="0.35">3</text>
<line x1="377.80" y1="1758.70" x2="377.80" y2="1753.50" stroke="#2b2b2b" stroke-width="2.00"/>
<text transform="translate(371.20 1783.00) scale(1 1.055)" font-size="23.50" fill="#363636" font-weight="bold" stroke="#363636" stroke-width="0.35">4</text>
<line x1="475.50" y1="1758.70" x2="475.50" y2="1753.50" stroke="#2b2b2b" stroke-width="2.00"/>
<text transform="translate(468.90 1783.00) scale(1 1.055)" font-size="23.50" fill="#363636" font-weight="bold" stroke="#363636" stroke-width="0.35">5</text>
<line x1="74.60" y1="1758.70" x2="79.80" y2="1758.70" stroke="#2b2b2b" stroke-width="2.00"/>
<line x1="74.60" y1="1717.94" x2="79.80" y2="1717.94" stroke="#2b2b2b" stroke-width="2.00"/>
<line x1="74.60" y1="1677.17" x2="79.80" y2="1677.17" stroke="#2b2b2b" stroke-width="2.00"/>
<line x1="74.60" y1="1636.41" x2="79.80" y2="1636.41" stroke="#2b2b2b" stroke-width="2.00"/>
<line x1="74.60" y1="1595.65" x2="79.80" y2="1595.65" stroke="#2b2b2b" stroke-width="2.00"/>
<line x1="74.60" y1="1554.89" x2="79.80" y2="1554.89" stroke="#2b2b2b" stroke-width="2.00"/>
<line x1="74.60" y1="1514.12" x2="79.80" y2="1514.12" stroke="#2b2b2b" stroke-width="2.00"/>
<line x1="74.60" y1="1473.36" x2="79.80" y2="1473.36" stroke="#2b2b2b" stroke-width="2.00"/>
<line x1="74.60" y1="1432.60" x2="79.80" y2="1432.60" stroke="#2b2b2b" stroke-width="2.00"/>
<text transform="translate(38.05 1767.50) scale(1 1.055)" font-size="23.50" fill="#0000ff" font-weight="bold" stroke="#0000ff" stroke-width="0.35">0.8</text>
<text transform="translate(37.87 1685.97) scale(1 1.055)" font-size="23.50" fill="#0000ff" font-weight="bold" stroke="#0000ff" stroke-width="0.35">1.2</text>
<text transform="translate(37.81 1604.45) scale(1 1.055)" font-size="23.50" fill="#0000ff" font-weight="bold" stroke="#0000ff" stroke-width="0.35">1.6</text>
<text transform="translate(48.04 1522.92) scale(1 1.055)" font-size="23.50" fill="#0000ff" font-weight="bold" stroke="#0000ff" stroke-width="0.35">2</text>
<text transform="translate(37.81 1441.40) scale(1 1.055)" font-size="23.50" fill="#0000ff" font-weight="bold" stroke="#0000ff" stroke-width="0.35">2.4</text>
<line x1="486.00" y1="1758.70" x2="480.80" y2="1758.70" stroke="#2b2b2b" stroke-width="2.00"/>
<line x1="486.00" y1="1726.09" x2="480.80" y2="1726.09" stroke="#2b2b2b" stroke-width="2.00"/>
<line x1="486.00" y1="1693.48" x2="480.80" y2="1693.48" stroke="#2b2b2b" stroke-width="2.00"/>
<line x1="486.00" y1="1660.87" x2="480.80" y2="1660.87" stroke="#2b2b2b" stroke-width="2.00"/>
<line x1="486.00" y1="1628.26" x2="480.80" y2="1628.26" stroke="#2b2b2b" stroke-width="2.00"/>
<line x1="486.00" y1="1595.65" x2="480.80" y2="1595.65" stroke="#2b2b2b" stroke-width="2.00"/>
<line x1="486.00" y1="1563.04" x2="480.80" y2="1563.04" stroke="#2b2b2b" stroke-width="2.00"/>
<line x1="486.00" y1="1530.43" x2="480.80" y2="1530.43" stroke="#2b2b2b" stroke-width="2.00"/>
<line x1="486.00" y1="1497.82" x2="480.80" y2="1497.82" stroke="#2b2b2b" stroke-width="2.00"/>
<line x1="486.00" y1="1465.21" x2="480.80" y2="1465.21" stroke="#2b2b2b" stroke-width="2.00"/>
<line x1="486.00" y1="1432.60" x2="480.80" y2="1432.60" stroke="#2b2b2b" stroke-width="2.00"/>
<text transform="translate(492.36 1735.79) scale(1 1.055)" font-size="23.50" fill="#9fd7f4" font-weight="bold" stroke="#9fd7f4" stroke-width="0.35">0.6</text>
<text transform="translate(492.36 1670.57) scale(1 1.055)" font-size="23.50" fill="#9fd7f4" font-weight="bold" stroke="#9fd7f4" stroke-width="0.35">0.7</text>
<text transform="translate(492.36 1605.35) scale(1 1.055)" font-size="23.50" fill="#9fd7f4" font-weight="bold" stroke="#9fd7f4" stroke-width="0.35">0.8</text>
<text transform="translate(492.36 1540.13) scale(1 1.055)" font-size="23.50" fill="#9fd7f4" font-weight="bold" stroke="#9fd7f4" stroke-width="0.35">0.9</text>
<text transform="translate(491.77 1474.91) scale(1 1.055)" font-size="23.50" fill="#9fd7f4" font-weight="bold" stroke="#9fd7f4" stroke-width="0.35">1</text>
<text transform="translate(278.76 1683.60) scale(1 1.055)" font-size="31.00" fill="#262626" font-weight="bold" stroke="#262626" stroke-width="0.35">CC</text>
<text transform="translate(325.04 1689.40) scale(1 1.055)" font-size="15.80" fill="#262626" font-weight="bold" stroke="#262626" stroke-width="0.35">Tuning</text>
<text transform="translate(376.04 1683.60) scale(1 1.055)" font-size="31.40" fill="#262626" font-weight="bold" stroke="#262626" stroke-width="0.35">= 0.95</text>
<text transform="translate(27.41 1712.97) rotate(-90) scale(1 1.035)" x="0" y="0" font-size="35.30" fill="#0000ff" font-weight="bold" stroke="#0000ff" stroke-width="0.35">Firing rate (Hz)</text>
<text transform="translate(215.14 1813.30) scale(1 1.055)" font-size="35.70" fill="#363636" stroke="#363636" stroke-width="0.50">Numerosity</text>
<polyline points="595.90,1667.50 693.40,1740.70 791.30,1586.60 889.50,1456.40 987.70,1587.90" fill="none" stroke="#0000ff" stroke-width="4.20" stroke-linejoin="round" stroke-linecap="butt"/>
<polyline points="595.90,1676.00 693.40,1753.20 791.30,1655.50 889.50,1468.10 987.70,1443.80" fill="none" stroke="#9fd7f4" stroke-width="3.50" stroke-linejoin="round" stroke-linecap="butt"/>
<path d="M585.90 1432.10 V1758.70 H997.20 V1432.10" fill="none" stroke="#2b2b2b" stroke-width="2.40" stroke-linejoin="miter" stroke-linecap="square"/>
<line x1="595.90" y1="1758.70" x2="595.90" y2="1753.50" stroke="#2b2b2b" stroke-width="2.00"/>
<text transform="translate(589.30 1783.00) scale(1 1.055)" font-size="23.50" fill="#363636" font-weight="bold" stroke="#363636" stroke-width="0.35">1</text>
<line x1="693.40" y1="1758.70" x2="693.40" y2="1753.50" stroke="#2b2b2b" stroke-width="2.00"/>
<text transform="translate(686.80 1783.00) scale(1 1.055)" font-size="23.50" fill="#363636" font-weight="bold" stroke="#363636" stroke-width="0.35">2</text>
<line x1="791.30" y1="1758.70" x2="791.30" y2="1753.50" stroke="#2b2b2b" stroke-width="2.00"/>
<text transform="translate(784.70 1783.00) scale(1 1.055)" font-size="23.50" fill="#363636" font-weight="bold" stroke="#363636" stroke-width="0.35">3</text>
<line x1="889.50" y1="1758.70" x2="889.50" y2="1753.50" stroke="#2b2b2b" stroke-width="2.00"/>
<text transform="translate(882.90 1783.00) scale(1 1.055)" font-size="23.50" fill="#363636" font-weight="bold" stroke="#363636" stroke-width="0.35">4</text>
<line x1="987.70" y1="1758.70" x2="987.70" y2="1753.50" stroke="#2b2b2b" stroke-width="2.00"/>
<text transform="translate(981.10 1783.00) scale(1 1.055)" font-size="23.50" fill="#363636" font-weight="bold" stroke="#363636" stroke-width="0.35">5</text>
<line x1="585.90" y1="1758.70" x2="591.10" y2="1758.70" stroke="#2b2b2b" stroke-width="2.00"/>
<line x1="585.90" y1="1726.04" x2="591.10" y2="1726.04" stroke="#2b2b2b" stroke-width="2.00"/>
<line x1="585.90" y1="1693.38" x2="591.10" y2="1693.38" stroke="#2b2b2b" stroke-width="2.00"/>
<line x1="585.90" y1="1660.72" x2="591.10" y2="1660.72" stroke="#2b2b2b" stroke-width="2.00"/>
<line x1="585.90" y1="1628.06" x2="591.10" y2="1628.06" stroke="#2b2b2b" stroke-width="2.00"/>
<line x1="585.90" y1="1595.40" x2="591.10" y2="1595.40" stroke="#2b2b2b" stroke-width="2.00"/>
<line x1="585.90" y1="1562.74" x2="591.10" y2="1562.74" stroke="#2b2b2b" stroke-width="2.00"/>
<line x1="585.90" y1="1530.08" x2="591.10" y2="1530.08" stroke="#2b2b2b" stroke-width="2.00"/>
<line x1="585.90" y1="1497.42" x2="591.10" y2="1497.42" stroke="#2b2b2b" stroke-width="2.00"/>
<line x1="585.90" y1="1464.76" x2="591.10" y2="1464.76" stroke="#2b2b2b" stroke-width="2.00"/>
<line x1="585.90" y1="1432.10" x2="591.10" y2="1432.10" stroke="#2b2b2b" stroke-width="2.00"/>
<text transform="translate(549.06 1736.04) scale(1 1.055)" font-size="23.50" fill="#0000ff" font-weight="bold" stroke="#0000ff" stroke-width="0.35">0.4</text>
<text transform="translate(549.29 1670.72) scale(1 1.055)" font-size="23.50" fill="#0000ff" font-weight="bold" stroke="#0000ff" stroke-width="0.35">0.5</text>
<text transform="translate(549.41 1605.40) scale(1 1.055)" font-size="23.50" fill="#0000ff" font-weight="bold" stroke="#0000ff" stroke-width="0.35">0.6</text>
<text transform="translate(549.53 1540.08) scale(1 1.055)" font-size="23.50" fill="#0000ff" font-weight="bold" stroke="#0000ff" stroke-width="0.35">0.7</text>
<text transform="translate(549.35 1474.76) scale(1 1.055)" font-size="23.50" fill="#0000ff" font-weight="bold" stroke="#0000ff" stroke-width="0.35">0.8</text>
<line x1="997.20" y1="1758.70" x2="992.00" y2="1758.70" stroke="#2b2b2b" stroke-width="2.00"/>
<line x1="997.20" y1="1722.41" x2="992.00" y2="1722.41" stroke="#2b2b2b" stroke-width="2.00"/>
<line x1="997.20" y1="1686.12" x2="992.00" y2="1686.12" stroke="#2b2b2b" stroke-width="2.00"/>
<line x1="997.20" y1="1649.83" x2="992.00" y2="1649.83" stroke="#2b2b2b" stroke-width="2.00"/>
<line x1="997.20" y1="1613.54" x2="992.00" y2="1613.54" stroke="#2b2b2b" stroke-width="2.00"/>
<line x1="997.20" y1="1577.26" x2="992.00" y2="1577.26" stroke="#2b2b2b" stroke-width="2.00"/>
<line x1="997.20" y1="1540.97" x2="992.00" y2="1540.97" stroke="#2b2b2b" stroke-width="2.00"/>
<line x1="997.20" y1="1504.68" x2="992.00" y2="1504.68" stroke="#2b2b2b" stroke-width="2.00"/>
<line x1="997.20" y1="1468.39" x2="992.00" y2="1468.39" stroke="#2b2b2b" stroke-width="2.00"/>
<line x1="997.20" y1="1432.10" x2="992.00" y2="1432.10" stroke="#2b2b2b" stroke-width="2.00"/>
<text transform="translate(1005.26 1767.20) scale(1 1.055)" font-size="23.50" fill="#9fd7f4" font-weight="bold" stroke="#9fd7f4" stroke-width="0.35">0.5</text>
<text transform="translate(1005.26 1694.62) scale(1 1.055)" font-size="23.50" fill="#9fd7f4" font-weight="bold" stroke="#9fd7f4" stroke-width="0.35">0.6</text>
<text transform="translate(1005.26 1622.04) scale(1 1.055)" font-size="23.50" fill="#9fd7f4" font-weight="bold" stroke="#9fd7f4" stroke-width="0.35">0.7</text>
<text transform="translate(1005.26 1549.47) scale(1 1.055)" font-size="23.50" fill="#9fd7f4" font-weight="bold" stroke="#9fd7f4" stroke-width="0.35">0.8</text>
<text transform="translate(1005.26 1476.89) scale(1 1.055)" font-size="23.50" fill="#9fd7f4" font-weight="bold" stroke="#9fd7f4" stroke-width="0.35">0.9</text>
<text transform="translate(663.56 1502.20) scale(1 1.055)" font-size="31.00" fill="#262626" font-weight="bold" stroke="#262626" stroke-width="0.35">CC</text>
<text transform="translate(709.84 1508.00) scale(1 1.055)" font-size="15.80" fill="#262626" font-weight="bold" stroke="#262626" stroke-width="0.35">Tuning</text>
<text transform="translate(760.84 1502.20) scale(1 1.055)" font-size="31.40" fill="#262626" font-weight="bold" stroke="#262626" stroke-width="0.35">= 0.81</text>
<text transform="translate(1072.91 1713.07) rotate(-90) scale(1 1.035)" x="0" y="0" font-size="35.30" fill="#9fd7f4" font-weight="bold" stroke="#9fd7f4" stroke-width="0.35">Firing rate (Hz)</text>
<text transform="translate(717.64 1813.30) scale(1 1.055)" font-size="35.70" fill="#363636" stroke="#363636" stroke-width="0.50">Numerosity</text>
<rect x="1307.90" y="163.30" width="133.50" height="580.50" fill="#000"/>
<rect x="1473.20" y="511.60" width="133.30" height="232.20" fill="#000"/>
<rect x="1638.00" y="395.50" width="133.80" height="348.30" fill="#000"/>
<rect x="1803.10" y="627.70" width="133.30" height="116.10" fill="#000"/>
<path d="M1252.00 164.20 V743.80 H1993.20" fill="none" stroke="#404040" stroke-width="3.50" stroke-linecap="square"/>
<line x1="1252.00" y1="743.80" x2="1261.40" y2="743.80" stroke="#404040" stroke-width="2.80"/>
<text transform="translate(1229.61 754.40) scale(1 1.055)" font-size="29.30" fill="#404040" font-weight="bold" stroke="#404040" stroke-width="0.35">0</text>
<line x1="1252.00" y1="627.88" x2="1261.40" y2="627.88" stroke="#404040" stroke-width="2.80"/>
<text transform="translate(1229.17 638.48) scale(1 1.055)" font-size="29.30" fill="#404040" font-weight="bold" stroke="#404040" stroke-width="0.35">1</text>
<line x1="1252.00" y1="511.96" x2="1261.40" y2="511.96" stroke="#404040" stroke-width="2.80"/>
<text transform="translate(1229.61 522.56) scale(1 1.055)" font-size="29.30" fill="#404040" font-weight="bold" stroke="#404040" stroke-width="0.35">2</text>
<line x1="1252.00" y1="396.04" x2="1261.40" y2="396.04" stroke="#404040" stroke-width="2.80"/>
<text transform="translate(1229.46 406.64) scale(1 1.055)" font-size="29.30" fill="#404040" font-weight="bold" stroke="#404040" stroke-width="0.35">3</text>
<line x1="1252.00" y1="280.12" x2="1261.40" y2="280.12" stroke="#404040" stroke-width="2.80"/>
<text transform="translate(1228.59 290.72) scale(1 1.055)" font-size="29.30" fill="#404040" font-weight="bold" stroke="#404040" stroke-width="0.35">4</text>
<line x1="1252.00" y1="164.20" x2="1261.40" y2="164.20" stroke="#404040" stroke-width="2.80"/>
<text transform="translate(1229.17 174.80) scale(1 1.055)" font-size="29.30" fill="#404040" font-weight="bold" stroke="#404040" stroke-width="0.35">5</text>
<line x1="1292.50" y1="743.80" x2="1292.50" y2="734.40" stroke="#404040" stroke-width="2.80"/>
<text transform="translate(1272.84 788.20) scale(1 1.055)" font-size="29.30" fill="#404040" font-weight="bold" stroke="#404040" stroke-width="0.35">-1</text>
<line x1="1457.25" y1="743.80" x2="1457.25" y2="734.40" stroke="#404040" stroke-width="2.80"/>
<text transform="translate(1436.08 788.20) scale(1 1.055)" font-size="29.30" fill="#404040" font-weight="bold" stroke="#404040" stroke-width="0.35">-0.5</text>
<line x1="1622.00" y1="743.80" x2="1622.00" y2="734.40" stroke="#404040" stroke-width="2.80"/>
<text transform="translate(1612.37 788.20) scale(1 1.055)" font-size="29.30" fill="#404040" font-weight="bold" stroke="#404040" stroke-width="0.35">0</text>
<line x1="1786.75" y1="743.80" x2="1786.75" y2="734.40" stroke="#404040" stroke-width="2.80"/>
<text transform="translate(1766.32 788.20) scale(1 1.055)" font-size="29.30" fill="#404040" font-weight="bold" stroke="#404040" stroke-width="0.35">0.5</text>
<line x1="1951.50" y1="743.80" x2="1951.50" y2="734.40" stroke="#404040" stroke-width="2.80"/>
<text transform="translate(1932.78 788.20) scale(1 1.055)" font-size="29.30" fill="#404040" font-weight="bold" stroke="#404040" stroke-width="0.35">1</text>
<text transform="translate(1525.66 155.00) scale(1 1.055)" font-size="43.70" fill="#000" font-weight="bold" stroke="#000" stroke-width="0.35">NS-BS cell pairs</text>
<text transform="translate(1189.07 646.92) rotate(-90) scale(1 1.035)" x="0" y="0" font-size="39.30" fill="#404040" stroke="#404040" stroke-width="0.50">Number of neuron pais</text>
<text transform="translate(1434.13 844.50) scale(1 1.055)" font-size="39.30" fill="#404040" stroke="#404040" stroke-width="0.50">Correlation Coefficient</text>
<text transform="translate(1829.63 857.00) scale(1 1.055)" font-size="30.60" fill="#404040" stroke="#404040" stroke-width="0.50">Tuning</text>
<rect x="1297.90" y="1642.25" width="132.70" height="48.35" fill="#000"/>
<rect x="1463.20" y="1593.90" width="132.30" height="96.70" fill="#000"/>
<rect x="1628.00" y="1352.15" width="132.30" height="338.45" fill="#000"/>
<rect x="1792.80" y="1110.40" width="132.80" height="580.20" fill="#000"/>
<path d="M1240.50 1110.50 V1690.60 H1983.50" fill="none" stroke="#404040" stroke-width="3.50" stroke-linecap="square"/>
<line x1="1240.50" y1="1690.60" x2="1249.90" y2="1690.60" stroke="#404040" stroke-width="2.80"/>
<text transform="translate(1218.11 1700.00) scale(1 1.055)" font-size="26.00" fill="#404040" font-weight="bold" stroke="#404040" stroke-width="0.35">0</text>
<line x1="1240.50" y1="1593.92" x2="1249.90" y2="1593.92" stroke="#404040" stroke-width="2.80"/>
<text transform="translate(1218.11 1603.32) scale(1 1.055)" font-size="26.00" fill="#404040" font-weight="bold" stroke="#404040" stroke-width="0.35">2</text>
<line x1="1240.50" y1="1497.23" x2="1249.90" y2="1497.23" stroke="#404040" stroke-width="2.80"/>
<text transform="translate(1217.20 1506.63) scale(1 1.055)" font-size="26.00" fill="#404040" font-weight="bold" stroke="#404040" stroke-width="0.35">4</text>
<line x1="1240.50" y1="1400.55" x2="1249.90" y2="1400.55" stroke="#404040" stroke-width="2.80"/>
<text transform="translate(1217.98 1409.95) scale(1 1.055)" font-size="26.00" fill="#404040" font-weight="bold" stroke="#404040" stroke-width="0.35">6</text>
<line x1="1240.50" y1="1303.87" x2="1249.90" y2="1303.87" stroke="#404040" stroke-width="2.80"/>
<text transform="translate(1217.85 1313.27) scale(1 1.055)" font-size="26.00" fill="#404040" font-weight="bold" stroke="#404040" stroke-width="0.35">8</text>
<line x1="1240.50" y1="1207.18" x2="1249.90" y2="1207.18" stroke="#404040" stroke-width="2.80"/>
<text transform="translate(1203.68 1216.58) scale(1 1.055)" font-size="26.00" fill="#404040" font-weight="bold" stroke="#404040" stroke-width="0.35">10</text>
<line x1="1240.50" y1="1110.50" x2="1249.90" y2="1110.50" stroke="#404040" stroke-width="2.80"/>
<text transform="translate(1203.68 1119.90) scale(1 1.055)" font-size="26.00" fill="#404040" font-weight="bold" stroke="#404040" stroke-width="0.35">12</text>
<line x1="1281.80" y1="1690.60" x2="1281.80" y2="1681.20" stroke="#404040" stroke-width="2.80"/>
<text transform="translate(1264.43 1724.40) scale(1 1.055)" font-size="26.00" fill="#404040" font-weight="bold" stroke="#404040" stroke-width="0.35">-1</text>
<line x1="1446.70" y1="1690.60" x2="1446.70" y2="1681.20" stroke="#404040" stroke-width="2.80"/>
<text transform="translate(1427.44 1724.40) scale(1 1.055)" font-size="26.00" fill="#404040" font-weight="bold" stroke="#404040" stroke-width="0.35">-0.5</text>
<line x1="1611.60" y1="1690.60" x2="1611.60" y2="1681.20" stroke="#404040" stroke-width="2.80"/>
<text transform="translate(1602.79 1724.40) scale(1 1.055)" font-size="26.00" fill="#404040" font-weight="bold" stroke="#404040" stroke-width="0.35">0</text>
<line x1="1776.50" y1="1690.60" x2="1776.50" y2="1681.20" stroke="#404040" stroke-width="2.80"/>
<text transform="translate(1757.73 1724.40) scale(1 1.055)" font-size="26.00" fill="#404040" font-weight="bold" stroke="#404040" stroke-width="0.35">0.5</text>
<line x1="1941.40" y1="1690.60" x2="1941.40" y2="1681.20" stroke="#404040" stroke-width="2.80"/>
<text transform="translate(1933.57 1724.40) scale(1 1.055)" font-size="26.00" fill="#404040" font-weight="bold" stroke="#404040" stroke-width="0.35">1</text>
<text transform="translate(1505.66 1102.10) scale(1 1.055)" font-size="43.70" fill="#000" font-weight="bold" stroke="#000" stroke-width="0.35">BS-BS cell pairs</text>
<text transform="translate(1192.87 1590.81) rotate(-90) scale(1 1.035)" x="0" y="0" font-size="39.30" fill="#404040" stroke="#404040" stroke-width="0.50">Number of neuron pairs</text>
<text transform="translate(1434.13 1768.30) scale(1 1.055)" font-size="39.30" fill="#404040" stroke="#404040" stroke-width="0.50">Correlation Coefficient</text>
<text transform="translate(1829.63 1780.80) scale(1 1.055)" font-size="30.60" fill="#404040" stroke="#404040" stroke-width="0.50">Tuning</text>
<line x1="1983.20" y1="1110.00" x2="1983.20" y2="1690.00" stroke="#ececec" stroke-width="1.00"/>
<rect x="115.4" y="1.9" width="426.9" height="97.4" fill="#fff" stroke="#000" stroke-width="2.5"/>
<rect x="126.3" y="11.6" width="28.8" height="21.6" fill="#0000ff"/>
<rect x="155.1" y="11.6" width="30.9" height="21.6" fill="#00ccff"/>
<rect x="126.3" y="60.4" width="59.7" height="21.6" fill="#ff0000"/>
<text transform="translate(206.33 34.80) scale(1 1.055)" font-size="30.85" fill="#000" stroke="#000" stroke-width="0.50">Broad spiking neurons</text>
<text transform="translate(205.33 84.90) scale(1 1.055)" font-size="30.85" fill="#000" stroke="#000" stroke-width="0.50">Narrow spiking neurons</text>
<text x="13.56" y="109.80" font-size="48" fill="#262626" font-weight="bold">a</text>
<text x="1141.28" y="122.00" font-size="48" fill="#262626" font-weight="bold">b</text>
<text x="18.38" y="986.80" font-size="48" fill="#262626" font-weight="bold">c</text>
<text x="1140.78" y="987.00" font-size="48" fill="#262626" font-weight="bold">d</text>
</svg>
</body></html>
